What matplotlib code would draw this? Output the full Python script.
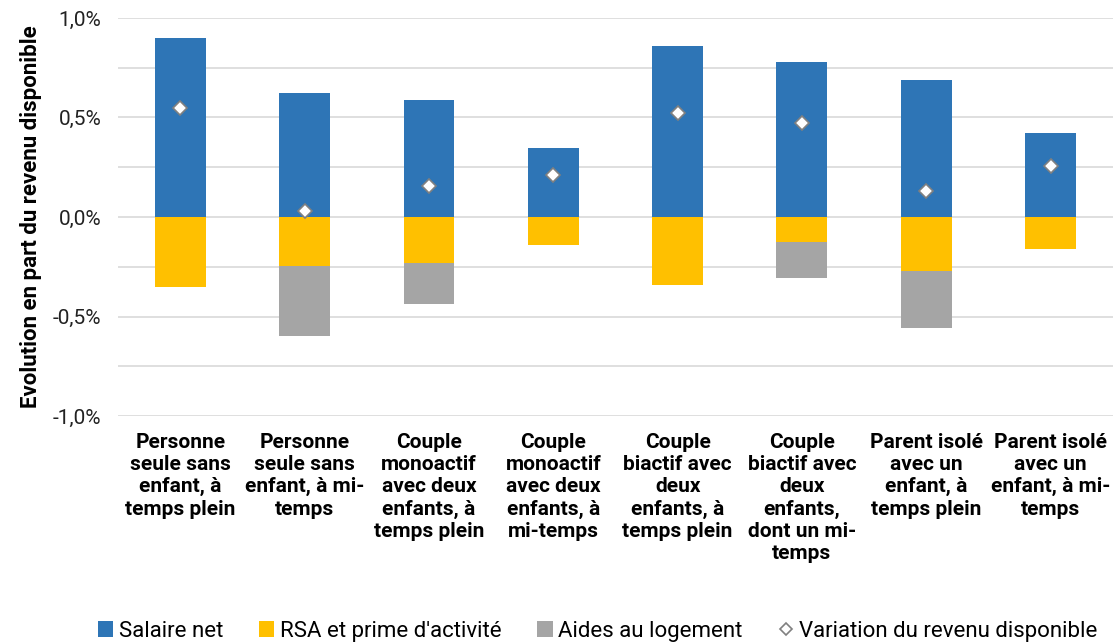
import matplotlib.pyplot as plt
import numpy as np
from matplotlib.ticker import FuncFormatter, MultipleLocator

plt.rcParams['font.family'] = ['Roboto', 'DejaVu Sans']

categories = [
    "Personne\nseule sans\nenfant, à\ntemps plein",
    "Personne\nseule sans\nenfant, à mi-\ntemps",
    "Couple\nmonoactif\navec deux\nenfants, à\ntemps plein",
    "Couple\nmonoactif\navec deux\nenfants, à\nmi-temps",
    "Couple\nbiactif avec\ndeux\nenfants, à\ntemps plein",
    "Couple\nbiactif avec\ndeux\nenfants,\ndont un mi-\ntemps",
    "Parent isolé\navec un\nenfant, à\ntemps plein",
    "Parent isolé\navec un\nenfant, à mi-\ntemps",
]
salaire = [0.90, 0.623, 0.59, 0.347, 0.859, 0.78, 0.69, 0.422]
rsa = [-0.352, -0.246, -0.231, -0.141, -0.342, -0.126, -0.271, -0.161]
logement = [0.0, -0.352, -0.206, 0.0, 0.0, -0.181, -0.287, 0.0]
variation = [0.548, 0.03, 0.156, 0.211, 0.523, 0.472, 0.131, 0.256]

fig = plt.figure(figsize=(11.15, 6.42), dpi=100)
ax = fig.add_axes([0.106, 0.352, 0.892, 0.62])

x = np.arange(len(categories))
w = 0.41
b1 = ax.bar(x, salaire, w, color='#2E75B6', label='Salaire net', zorder=2)
b2 = ax.bar(x, rsa, w, color='#FFC000', label="RSA et prime d'activité", zorder=2)
b3 = ax.bar(x, logement, w, bottom=rsa, color='#A5A5A5', label='Aides au logement', zorder=2)
m, = ax.plot(x, variation, linestyle='none', marker='D', markersize=7.5,
             markerfacecolor='white', markeredgecolor='#808080', markeredgewidth=1.2,
             label='Variation du revenu disponible', zorder=3)

ax.set_xlim(-0.5, 7.5)
ax.set_ylim(-1.0, 1.0)
ax.yaxis.set_major_locator(MultipleLocator(0.5))
ax.yaxis.set_minor_locator(MultipleLocator(0.25))
ax.yaxis.set_major_formatter(FuncFormatter(lambda v, p: f"{v:.1f}%".replace('.', ',')))
ax.grid(axis='y', which='both', color='#D9D9D9', linewidth=1.2, zorder=0)
ax.tick_params(axis='y', which='both', length=0, labelsize=15, colors='#222222', pad=12)
ax.tick_params(axis='x', length=0, pad=12)
ax.set_xticks(x)
ax.set_xticklabels(categories, fontsize=15, fontweight='bold', linespacing=1.22)
for s in ax.spines.values():
    s.set_visible(False)

ax.set_ylabel('Evolution en part du revenu disponible', fontsize=16, fontweight='bold', labelpad=8)

fig.legend([b1, b2, b3, m],
           ['Salaire net', "RSA et prime d'activité", 'Aides au logement', 'Variation du revenu disponible'],
           loc='center', bbox_to_anchor=(0.536, 0.017), ncol=4, frameon=False,
           fontsize=16, handlelength=0.7, handleheight=0.7, handletextpad=0.25,
           columnspacing=1.6, markerscale=0.85)

fig.savefig('out.png', dpi=100)
